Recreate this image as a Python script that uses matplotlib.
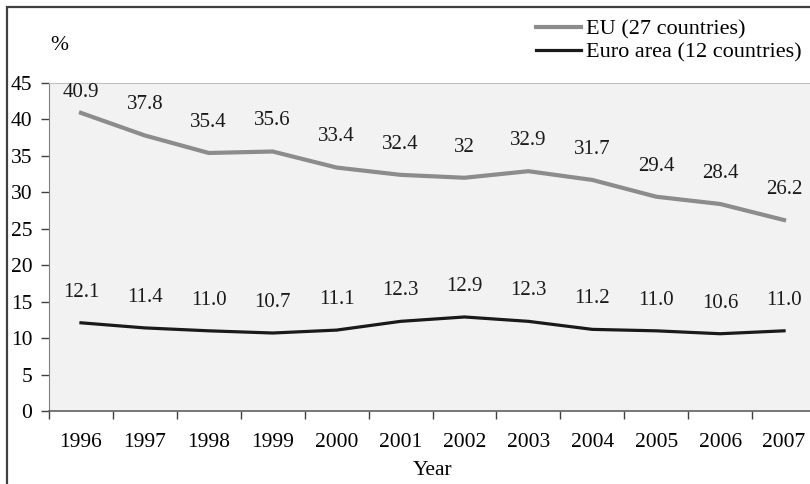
import matplotlib
matplotlib.use("Agg")
import matplotlib.pyplot as plt
from matplotlib.patches import Rectangle
import numpy as np

# data
years = ["1996", "1997", "1998", "1999", "2000", "2001",
         "2002", "2003", "2004", "2005", "2006", "2007"]
eu27 = [40.9, 37.8, 35.4, 35.6, 33.4, 32.4, 32.0, 32.9, 31.7, 29.4, 28.4, 26.2]
eu27_labels = ["40.9", "37.8", "35.4", "35.6", "33.4", "32.4",
               "32", "32.9", "31.7", "29.4", "28.4", "26.2"]
euro12 = [12.1, 11.4, 11.0, 10.7, 11.1, 12.3, 12.9, 12.3, 11.2, 11.0, 10.6, 11.0]
euro12_labels = ["12.1", "11.4", "11.0", "10.7", "11.1", "12.3",
                 "12.9", "12.3", "11.2", "11.0", "10.6", "11.0"]

plt.rcParams["font.family"] = ["Liberation Serif", "DejaVu Serif"]

fig = plt.figure(figsize=(8.1, 4.84), dpi=100)
fig.patch.set_facecolor("white")

# outer frame (right/bottom edges fall outside the image)
fig.patches.append(Rectangle((7 / 810, -0.1), 1.2, (484 - 7) / 484 + 0.1,
                             transform=fig.transFigure, fill=False,
                             edgecolor="#404040", linewidth=1.6))

ax = fig.add_axes([49 / 810, 73 / 484, 767 / 810, 328 / 484])
ax.set_facecolor("#f2f2f2")

x = np.arange(len(years))

ax.plot(x, eu27, color="#8c8c8c", linewidth=3.0, label="EU (27 countries)")
ax.plot(x, euro12, color="#1a1a1a", linewidth=2.3, label="Euro area (12 countries)")

# data labels
for i in range(len(years)):
    off = 15 if i == 0 else 22
    ax.annotate(eu27_labels[i], (x[i], eu27[i]), xytext=(0, off),
                textcoords="offset points", ha="center", va="center",
                fontsize=15, color="#1a1a1a")
    ax.annotate(euro12_labels[i], (x[i], euro12[i]), xytext=(0, 22),
                textcoords="offset points", ha="center", va="center",
                fontsize=15, color="#1a1a1a")

ax.set_xlim(-0.5, len(years) - 0.5)
ax.set_ylim(0, 45)
ax.set_yticks(np.arange(0, 46, 5))

ax.set_xticks(np.arange(-0.5, len(years), 1.0))
ax.set_xticklabels([])
ax.set_xticks(x, minor=True)
ax.set_xticklabels(years, minor=True)
ax.tick_params(axis="x", which="major", direction="out", length=6,
               color="#404040", width=1)
ax.tick_params(axis="x", which="minor", length=0, pad=16, labelsize=15.5)
ax.tick_params(axis="y", direction="out", length=6, color="#404040",
               width=1, pad=6, labelsize=15.5)

ax.spines["top"].set_color("#c0c0c0")
ax.spines["right"].set_visible(False)
ax.spines["left"].set_color("#808080")
ax.spines["bottom"].set_color("#606060")
ax.spines["bottom"].set_linewidth(1.2)

ax.set_xlabel("Year", fontsize=15.5, labelpad=6)

fig.text(50 / 810, 1 - 45 / 484, "%", fontsize=15.5, va="center", ha="left")

ax.legend(loc="upper right", bbox_to_anchor=(802 / 810, 1 - 19 / 484),
          bbox_transform=fig.transFigure, frameon=False, fontsize=16,
          handlelength=2.0, handletextpad=0.25, labelspacing=0.1,
          borderaxespad=0, borderpad=0)

fig.savefig("out.png", dpi=100)
